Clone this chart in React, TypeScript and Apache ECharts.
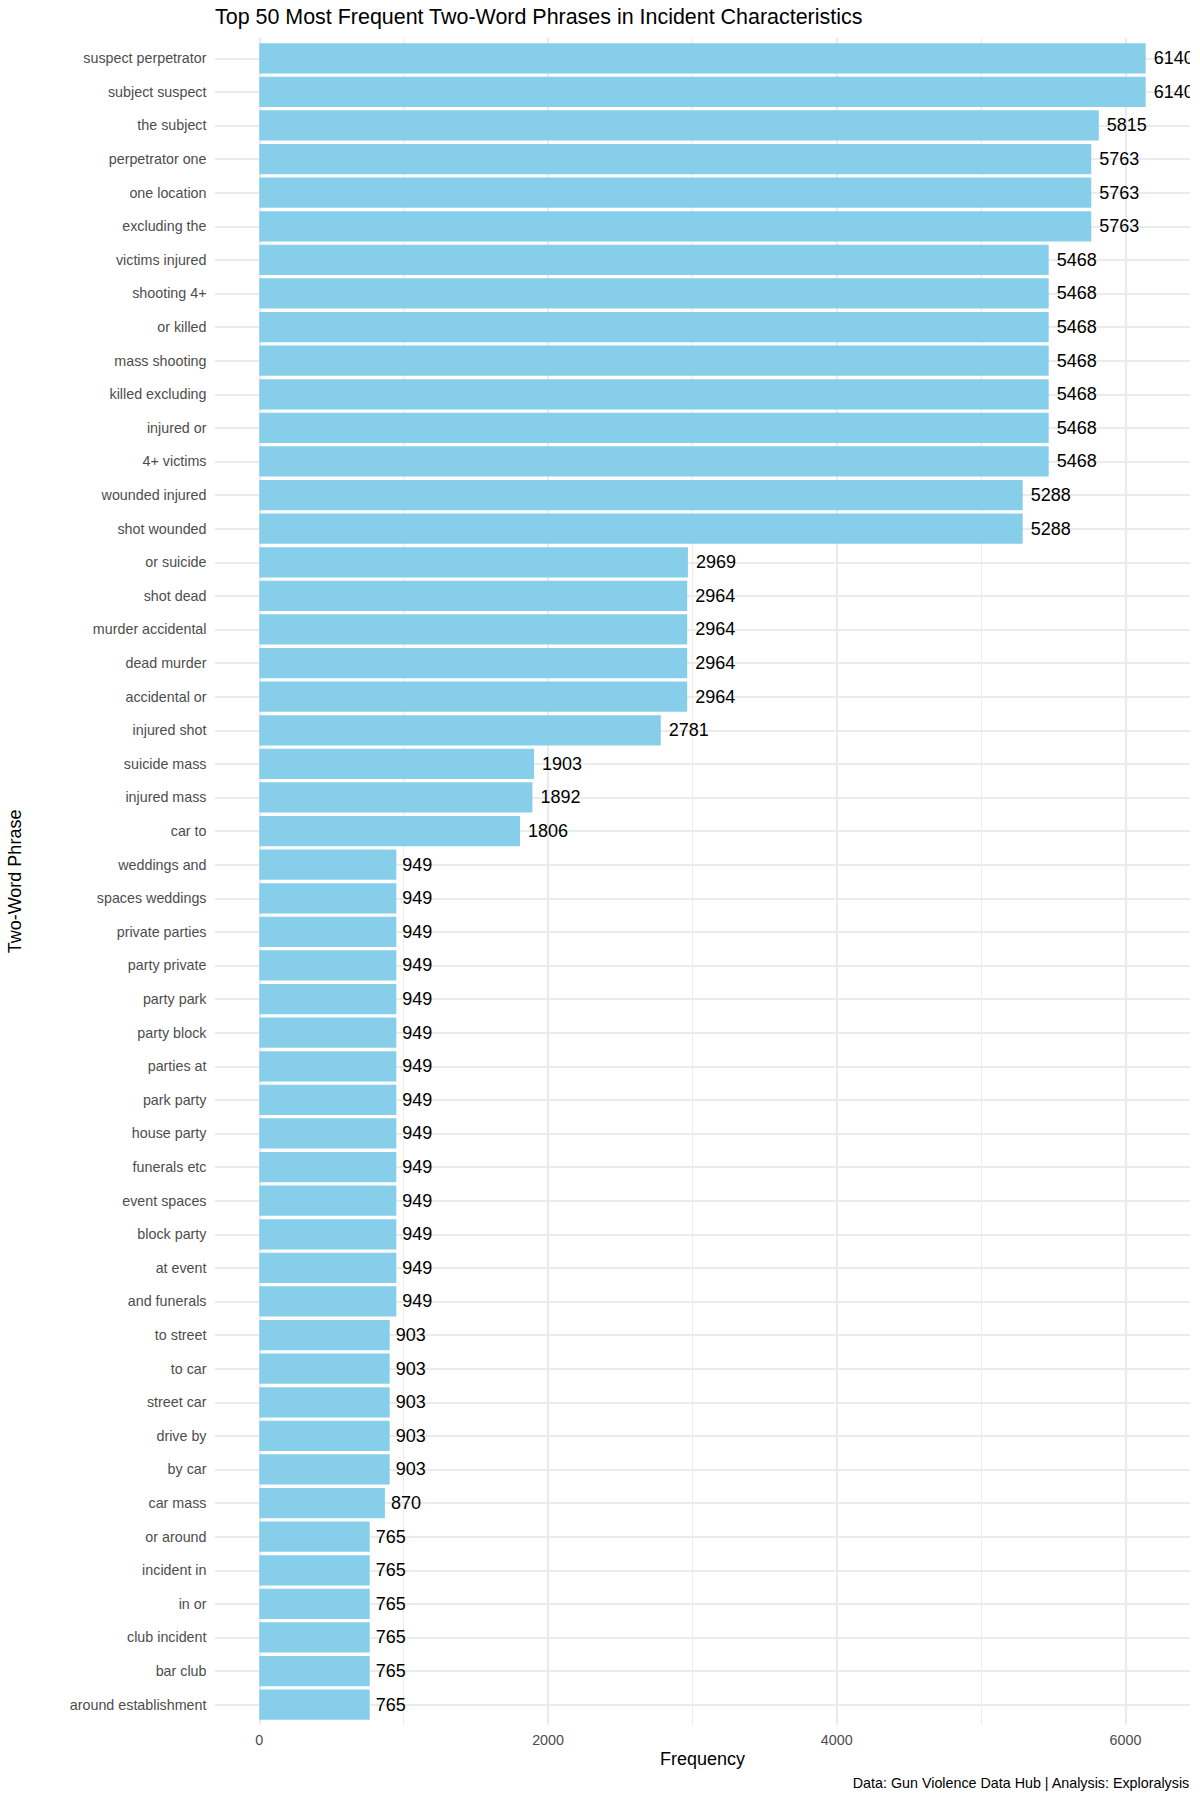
import React, { useEffect, useRef } from "react";
import * as echarts from "echarts";

const phrases: string[] = [
  "suspect perpetrator", "subject suspect", "the subject", "perpetrator one", "one location",
  "excluding the", "victims injured", "shooting 4+", "or killed", "mass shooting",
  "killed excluding", "injured or", "4+ victims", "wounded injured", "shot wounded",
  "or suicide", "shot dead", "murder accidental", "dead murder", "accidental or",
  "injured shot", "suicide mass", "injured mass", "car to", "weddings and",
  "spaces weddings", "private parties", "party private", "party park", "party block",
  "parties at", "park party", "house party", "funerals etc", "event spaces",
  "block party", "at event", "and funerals", "to street", "to car",
  "street car", "drive by", "by car", "car mass", "or around",
  "incident in", "in or", "club incident", "bar club", "around establishment",
];

const frequencies: number[] = [
  6140, 6140, 5815, 5763, 5763,
  5763, 5468, 5468, 5468, 5468,
  5468, 5468, 5468, 5288, 5288,
  2969, 2964, 2964, 2964, 2964,
  2781, 1903, 1892, 1806, 949,
  949, 949, 949, 949, 949,
  949, 949, 949, 949, 949,
  949, 949, 949, 903, 903,
  903, 903, 903, 870, 765,
  765, 765, 765, 765, 765,
];

const majorTicks: number[] = [0, 2000, 4000, 6000];
const minorTicks: number[] = [1000, 3000, 5000];

const titleText = "Top 50 Most Frequent Two-Word Phrases in Incident Characteristics";
const captionText = "Data: Gun Violence Data Hub | Analysis: Exploralysis";
const xTitle = "Frequency";
const yTitle = "Two-Word Phrase";

const FONT = "'Liberation Sans', Arial, Helvetica, sans-serif";

export default function App() {
  const ref = useRef<HTMLDivElement>(null);

  useEffect(() => {
    document.body.style.margin = "0";
    if (!ref.current) return;
    const chart = echarts.init(ref.current, null, { renderer: "svg" });

    const dataMax = Math.max(...frequencies);
    const pad = dataMax * 0.05;
    const xMin = -pad;
    const xMax = dataMax + pad;
    const n = phrases.length;
    const yIdx = phrases.map((_, i) => i + 1);

    const panelLeft = 215;
    const panelRight = 10;
    const band = 33.6;
    const panelTop = 38.1;
    const panelHeight = (n + 0.2) * band;
    const barTop = panelTop + 0.1 * band;

    const option: any = {
      animation: false,
      backgroundColor: "#ffffff",
      textStyle: { fontFamily: FONT },
      title: [
        {
          text: titleText,
          left: 215,
          top: 6.8,
          padding: 0,
          textStyle: { fontSize: 21.45, fontWeight: "normal", color: "#000000", fontFamily: FONT },
        },
        {
          text: captionText,
          right: 10,
          top: 1775.6,
          padding: 0,
          textStyle: { fontSize: 14.3, fontWeight: "normal", color: "#000000", fontFamily: FONT },
        },
      ],
      grid: [
        { left: panelLeft, right: panelRight, top: barTop, height: n * band, outerBoundsMode: "none", containLabel: false },
        { left: panelLeft, right: panelRight, top: panelTop, height: panelHeight, outerBoundsMode: "none", containLabel: false },
      ],
      xAxis: [
        {
          type: "value",
          gridIndex: 0,
          min: xMin,
          max: xMax,
          show: false,
        },
        {
          type: "value",
          gridIndex: 1,
          min: xMin,
          max: xMax,
          position: "bottom",
          axisLine: { show: false },
          axisTick: { show: false, customValues: majorTicks },
          axisLabel: {
            customValues: majorTicks,
            formatter: (v: number) => String(v),
            fontSize: 14.3,
            color: "#4d4d4d",
            margin: 8,
            fontFamily: FONT,
          },
          splitLine: { show: true, lineStyle: { color: "#ebebeb", width: 2.2 } },
          name: xTitle,
          nameLocation: "middle",
          nameGap: 25.4,
          nameMoveOverlap: false,
          nameTextStyle: { fontSize: 18, color: "#000000", fontFamily: FONT },
        },
        {
          type: "value",
          gridIndex: 1,
          min: xMin,
          max: xMax,
          position: "bottom",
          axisLine: { show: false },
          axisTick: { show: false, customValues: minorTicks },
          axisLabel: { show: false, customValues: minorTicks },
          splitLine: { show: true, lineStyle: { color: "#ebebeb", width: 1.1 } },
        },
      ],
      yAxis: [
        {
          type: "category",
          gridIndex: 0,
          data: phrases,
          inverse: true,
          axisLine: { show: false },
          axisTick: { show: false },
          splitLine: { show: false },
          axisLabel: {
            fontSize: 14.3,
            color: "#4d4d4d",
            margin: 8.5,
            interval: 0,
            fontFamily: FONT,
          },
          name: yTitle,
          nameLocation: "middle",
          nameGap: 191,
          nameRotate: 90,
          nameMoveOverlap: false,
          nameTextStyle: { fontSize: 18, color: "#000000", fontFamily: FONT },
        },
        {
          type: "value",
          gridIndex: 1,
          min: 0.4,
          max: n + 0.6,
          inverse: true,
          axisLine: { show: false },
          axisTick: { show: false, customValues: yIdx },
          axisLabel: { show: false, customValues: yIdx },
          splitLine: { show: true, lineStyle: { color: "#ebebeb", width: 2.2 } },
        },
      ],
      series: [
        {
          type: "bar",
          xAxisIndex: 0,
          yAxisIndex: 0,
          barWidth: "90%",
          itemStyle: { color: "#87ceeb" },
          data: frequencies.map((v) => ({
            value: v,
            label: { distance: 0.2 * String(v).length * 0.556 * 18 },
          })),
          label: {
            show: true,
            position: "right",
            fontSize: 18,
            color: "#000000",
            fontFamily: FONT,
          },
          z: 3,
        },
      ],
      graphic: [
        {
          type: "rect",
          z: 100,
          shape: { x: 1200 - panelRight, y: panelTop, width: panelRight, height: panelHeight },
          style: { fill: "#ffffff" },
          silent: true,
        },
      ],
    };

    chart.setOption(option);
    return () => {
      chart.dispose();
    };
  }, []);

  return <div ref={ref} style={{ width: 1200, height: 1800 }} />;
}
